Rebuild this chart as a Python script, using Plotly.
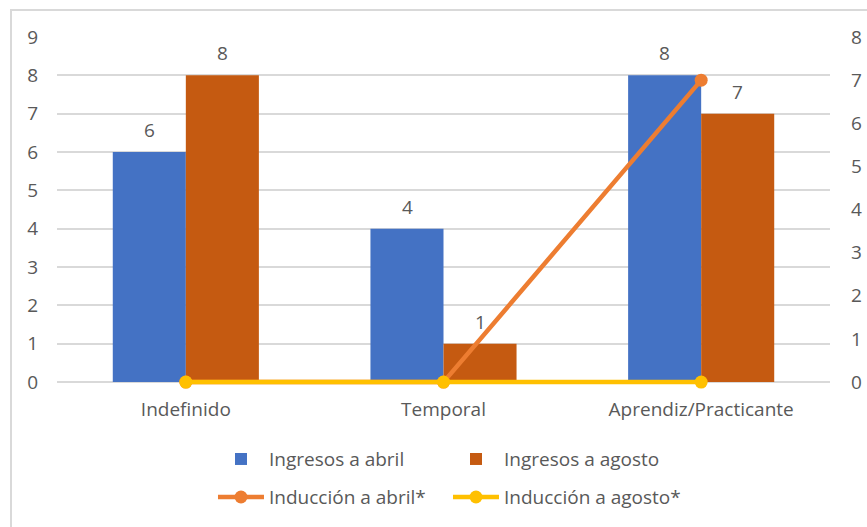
import plotly.graph_objects as go

categories = ["Indefinido", "Temporal", "Aprendiz/Practicante"]
ingresos_abril = [6, 4, 8]
ingresos_agosto = [8, 1, 7]
induccion_abril = [0, 0, 7]
induccion_agosto = [0, 0, 0]
left_ticks = list(range(0, 10))
right_ticks = list(range(0, 9))

TEXT = "#595959"
GRID = "#d9d9d9"
FONT = "Open Sans, sans-serif"
FS = 19

# both value axes start a little below zero so the zero-level line is not clipped
PAD = 0.02

fig = go.Figure()
fig.add_trace(go.Bar(x=categories, y=ingresos_abril, name="Ingresos a abril",
                     legend="legend",
                     marker=dict(color="#4472C4", line=dict(width=0))))
fig.add_trace(go.Bar(x=categories, y=ingresos_agosto, name="Ingresos a agosto",
                     legend="legend",
                     marker=dict(color="#C55A11", line=dict(width=0))))
fig.add_trace(go.Scatter(x=categories, y=induccion_abril, name="Inducción a abril*",
                         yaxis="y2", mode="lines+markers", legend="legend2",
                         cliponaxis=False,
                         line=dict(color="#ED7D31", width=4.5),
                         marker=dict(color="#ED7D31", size=13)))
fig.add_trace(go.Scatter(x=categories, y=induccion_agosto, name="Inducción a agosto*",
                         yaxis="y2", mode="lines+markers", legend="legend2",
                         cliponaxis=False,
                         line=dict(color="#FFC000", width=4.5),
                         marker=dict(color="#FFC000", size=13)))

# value labels above each bar
half_bar = 36.5
for vals, shift in ((ingresos_abril, -half_bar), (ingresos_agosto, half_bar)):
    for cat, v in zip(categories, vals):
        fig.add_annotation(x=cat, y=v, text=str(v), showarrow=False,
                           xshift=shift, yshift=22,
                           font=dict(size=FS, color=TEXT, family=FONT))

plot_h = 345 * (1 + PAD)
bottom = 527 - 37 - plot_h

# outer chart frame
fig.add_shape(type="rect", xref="paper", yref="paper",
              x0=-0.0595, x1=1.2, y0=-0.6, y1=1 + 27 / plot_h,
              line=dict(color=GRID, width=2), fillcolor="rgba(0,0,0,0)")

legend_common = dict(orientation="h", xanchor="left", yanchor="middle",
                     x=0.2018, entrywidth=174, itemwidth=46,
                     traceorder="normal", bgcolor="rgba(0,0,0,0)",
                     font=dict(size=FS, color=TEXT, family=FONT))


def row_y(py):
    return (527 - bottom - py) / plot_h


fig.update_layout(
    width=867, height=527,
    margin=dict(l=57, r=37, t=37, b=bottom, autoexpand=False),
    paper_bgcolor="white", plot_bgcolor="white",
    font=dict(family=FONT, size=FS, color=TEXT),
    barmode="group", bargap=0.433, bargroupgap=0,
    xaxis=dict(showline=False, showgrid=False, ticks="", ticklabelstandoff=7,
               automargin=False, tickfont=dict(size=FS, color=TEXT)),
    yaxis=dict(range=[-9 * PAD, 9], tickvals=left_ticks, showgrid=True,
               gridcolor=GRID, gridwidth=1.5, zeroline=False, showline=False,
               automargin=False, ticks="", ticklabelstandoff=18,
               tickfont=dict(size=FS, color=TEXT)),
    yaxis2=dict(range=[-8 * PAD, 8], tickvals=right_ticks, overlaying="y",
                side="right", showgrid=False, zeroline=False, showline=False,
                automargin=False, ticks="", ticklabelstandoff=20,
                tickfont=dict(size=FS, color=TEXT)),
    legend=dict(y=row_y(459), **legend_common),
    legend2=dict(y=row_y(497), **legend_common),
    showlegend=True,
)

fig.write_html("out.html")
